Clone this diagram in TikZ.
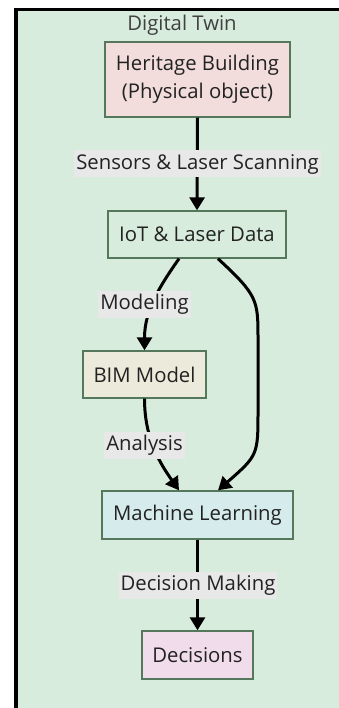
\documentclass[tikz,border=0pt]{standalone}
\usepackage{fontspec}
\setmainfont{Open Sans}
\usetikzlibrary{arrows.meta}
\definecolor{bggreen}{HTML}{D7ECDC}
\definecolor{boxborder}{HTML}{55775B}
\definecolor{herpink}{HTML}{F2DCDC}
\definecolor{bimbeige}{HTML}{ECEBDB}
\definecolor{mlblue}{HTML}{D6EBEC}
\definecolor{decpink}{HTML}{F1DCEB}
\definecolor{lblgray}{HTML}{E8E8E8}
\definecolor{txt}{HTML}{222222}
\tikzset{
  flowbox/.style={draw=boxborder, line width=1.4pt, inner sep=0pt, align=center,
    text=txt, font=\fontsize{20.3}{28}\selectfont},
  edgelbl/.style={fill=lblgray, inner xsep=2pt, inner ysep=0pt, minimum height=27pt,
    text=txt, font=\fontsize{20.3}{28}\selectfont},
  conn/.style={draw=black, line width=3pt, -{Triangle[width=15pt,length=13pt]}},
}
\begin{document}
\begin{tikzpicture}[x=1pt,y=-1pt]
\useasboundingbox (0,0) rectangle (339,708);
\begin{scope}
\clip (0,0) rectangle (339,708);
\draw[line width=3.5pt, fill=bggreen] (16,9.5) rectangle (360,730);
\end{scope}
\node[text=black!75, font=\fontsize{20.3}{28}\selectfont] (title) at (182,25) {Digital Twin};

\node[flowbox, fill=herpink, minimum width=185pt, minimum height=75pt] (her) at (197.5,79.5)
  {Heritage Building\\(Physical object)};
\node[flowbox, fill=bggreen, minimum width=178pt, minimum height=47pt] (iot) at (197,234.5)
  {IoT \& Laser Data};
\node[flowbox, fill=bimbeige, minimum width=123pt, minimum height=47pt] (bim) at (144.5,374.5)
  {BIM Model};
\node[flowbox, fill=mlblue, minimum width=191pt, minimum height=48pt] (ml) at (197.5,515)
  {Machine Learning};
\node[flowbox, fill=decpink, minimum width=111pt, minimum height=48pt] (dec) at (197.5,655)
  {Decisions};

% connectors
\draw[conn] (her.south) -- (iot.north);
\draw[conn] ([xshift=-18pt]iot.south) .. controls +(-19,27) and +(0,-40) .. (bim.north);
\draw[conn] ([xshift=21pt]iot.south) .. controls +(40,37) and +(0,-40) .. (258,340)
  -- (258,410) .. controls +(0,45) and +(40,-35) .. ([xshift=20.5pt]ml.north);
\draw[conn] (bim.south) .. controls +(0,40) and +(-19,-27) .. ([xshift=-18.5pt]ml.north);
\draw[conn] (ml.south) -- (dec.north);

% edge labels
\node[edgelbl] (l1) at (197.5,164) {Sensors \& Laser Scanning};
\node[edgelbl] (l2) at (144.5,304.5) {Modeling};
\node[edgelbl] (l3) at (144.5,445) {Analysis};
\node[edgelbl] (l4) at (198,585.5) {Decision Making};
\end{tikzpicture}
\end{document}
